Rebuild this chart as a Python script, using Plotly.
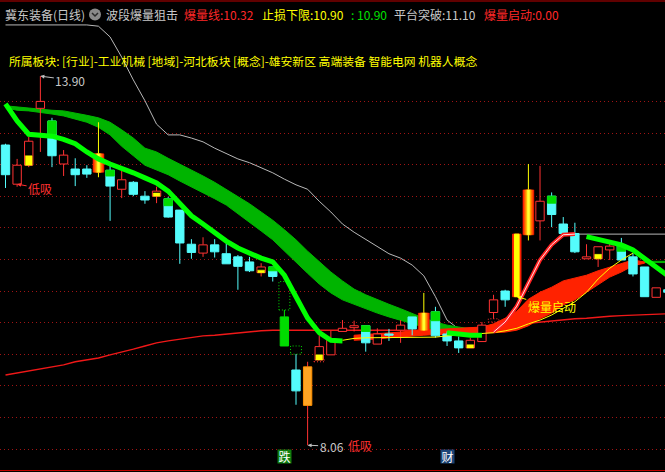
import plotly.graph_objects as go

# ---------------------------------------------------------------- daily bars
OPEN = [12.81, 12.19, 12.49, 13.39, 13.19, 12.51, 12.43, 12.43, 12.38, 12.41,
        12.11, 12.22, 12.00, 12.00, 11.96, 11.78, 11.24, 11.10, 11.23, 11.09,
        11.04, 10.96, 10.79, 10.88, 10.09, 9.25, 8.69, 9.41, 9.49, 9.86,
        9.92, 9.95, 9.66, 9.82, 9.88, 10.09, 9.88, 10.17, 9.82, 9.71,
        9.60, 9.70, 10.16, 10.50, 10.41, 11.39, 11.61, 12.00, 11.56, 11.41,
        11.01, 11.01, 11.15, 11.23, 11.04, 10.88, 10.40, 10.52]
HIGH = [12.83, 12.59, 12.94, 13.90, 13.24, 12.73, 12.60, 12.49, 13.17, 12.48,
        12.42, 12.24, 12.08, 12.15, 11.99, 11.78, 11.32, 11.35, 11.32, 11.29,
        11.07, 11.04, 10.94, 10.88, 10.20, 9.50, 9.38, 9.80, 9.87, 10.04,
        10.03, 9.95, 9.91, 9.90, 10.04, 10.09, 10.47, 10.25, 9.86, 9.78,
        9.76, 10.01, 10.44, 10.52, 11.40, 12.51, 12.48, 12.06, 11.67, 11.58,
        11.24, 11.20, 11.27, 11.34, 11.10, 10.88, 10.55, 10.55]
LOW = [12.13, 12.15, 12.46, 12.70, 12.46, 12.32, 12.16, 12.29, 12.30, 11.61,
       11.97, 12.00, 11.88, 11.89, 11.66, 10.93, 11.01, 11.04, 11.03, 10.93,
       10.52, 10.80, 10.73, 10.65, 9.63, 8.70, 8.06, 9.41, 9.49, 9.86,
       9.86, 9.54, 9.66, 9.71, 9.68, 9.80, 9.88, 9.76, 9.63, 9.52,
       9.60, 9.70, 10.06, 10.25, 10.41, 11.30, 11.30, 11.51, 11.41, 11.10,
       11.01, 10.88, 10.99, 10.99, 10.73, 10.41, 10.40, 10.40]
CLOSE = [12.34, 12.49, 12.87, 13.50, 12.64, 12.65, 12.34, 12.35, 12.67, 12.16,
         12.26, 12.03, 11.94, 12.08, 11.67, 11.26, 11.11, 11.23, 11.12, 10.93,
         10.89, 10.82, 10.88, 10.73, 9.63, 8.92, 9.30, 9.62, 9.72, 9.91,
         9.95, 9.68, 9.82, 9.80, 9.96, 9.90, 10.15, 9.79, 9.71, 9.60,
         9.72, 9.96, 10.36, 10.36, 11.40, 12.10, 11.92, 11.71, 11.41, 11.12,
         11.04, 11.20, 11.21, 10.99, 10.77, 10.41, 10.55, 10.48]

# special bars flagged by the strategy
BAR_TAG = {8: "burst", 24: "limit", 26: "bottom", 36: "burst", 44: "launch", 45: "burst"}
# volume marks painted inside bodies: bar index -> price level
VOL_UP_MARK = {2: 12.64, 13: 12.05, 22: 10.83, 27: 9.49, 40: 9.65, 51: 11.08}
VOL_DN_MARK = {4: 12.98, 9: 12.32, 14: 11.85, 23: 10.82, 31: 9.86, 37: 10.03,
               47: 11.89, 53: 11.13}

# ---------------------------------------------------------------- indicator lines
MA_LONG = [9.17, 9.20, 9.23, 9.27, 9.30, 9.33, 9.38, 9.41, 9.44, 9.49,
           9.53, 9.58, 9.63, 9.68, 9.71, 9.74, 9.77, 9.79, 9.80, 9.82,
           9.84, 9.85, 9.87, 9.88, 9.88, 9.88, 9.88, 9.88, 9.88, 9.87,
           9.87, 9.87, 9.87, 9.87, 9.88, 9.88, 9.88, 9.88, 9.89, 9.90,
           9.91, 9.91, 9.93, 9.95, 9.98, 9.99, 10.01, 10.03, 10.04, 10.06,
           10.07, 10.09, 10.10, 10.11, 10.12, 10.13, 10.14, 10.14]
TREND = [14.71, 14.71, 14.71, 14.71, 14.71, 14.71, 14.71, 14.71, 14.69, 14.52,
         14.20, 13.84, 13.51, 13.14, 12.97, 12.97, 12.92, 12.86, 12.76, 12.67,
         12.59, 12.53, 12.45, 12.37, 12.27, 12.18, 12.11, 11.92, 11.75, 11.56,
         11.43, 11.32, 11.20, 11.09, 11.02, 10.91, 10.74, 10.41, 10.04, 9.90,
         9.90, 9.90, 9.91, 10.01, 10.26, 10.63, 10.99, 11.23, 11.39, 11.40,
         11.40, 11.40, 11.40, 11.40, 11.40, 11.40, 11.40, 11.40]
GREEN_HI = [13.43, 13.41, 13.40, 13.38, 13.36, 13.35, 13.32, 13.28, 13.24, 13.17,
            13.05, 12.92, 12.76, 12.70, 12.60, 12.51, 12.41, 12.32, 12.22, 12.11,
            12.00, 11.88, 11.75, 11.62, 11.47, 11.31, 11.13, 10.96, 10.80, 10.66,
            10.53, 10.44, 10.36, 10.29, 10.22, 10.14, 10.07, 10.01, 9.96, 9.93,
            9.90, 9.87, None, None, None, None, None, None, None, None,
            None, None, None, None, None, 10.97, 10.97, 10.97]
GREEN_LO = [13.40, 13.36, 13.35, 13.33, 13.30, 13.27, 13.22, 13.17, 13.09, 12.97,
            12.79, 12.64, 12.49, 12.41, 12.34, 12.24, 12.15, 12.05, 11.96, 11.86,
            11.73, 11.59, 11.45, 11.31, 11.13, 10.96, 10.78, 10.61, 10.47, 10.36,
            10.28, 10.22, 10.15, 10.09, 10.04, 9.98, 9.93, 9.88, 9.85, 9.82,
            9.80, 9.79, None, None, None, None, None, None, None, None,
            None, None, None, None, None, 10.95, 10.95, 10.95]
RED_HI = [None, None, None, None, None, None, None, None, None, None,
          None, None, None, None, None, None, None, None, None, None,
          None, None, None, None, None, None, None, None, None, None,
          9.80, 9.81, 9.82, 9.84, 9.85, 9.87, 9.88, 9.89, 9.90, 9.90,
          9.91, 9.93, 9.98, 10.07, 10.18, 10.37, 10.48, 10.56, 10.66, 10.71,
          10.75, 10.82, 10.88, 10.94, 10.99, 10.96, None, None]
RED_LO = [None, None, None, None, None, None, None, None, None, None,
          None, None, None, None, None, None, None, None, None, None,
          None, None, None, None, None, None, None, None, None, None,
          9.72, 9.73, 9.74, 9.76, 9.77, 9.79, 9.80, 9.81, 9.82, 9.82,
          9.83, 9.84, 9.84, 9.85, 9.88, 9.95, 10.06, 10.15, 10.28, 10.36,
          10.48, 10.60, 10.72, 10.80, 10.90, 10.94, None, None]
STOP_LINE = [None, None, None, None, None, None, None, None, None, None,
             None, None, None, None, None, None, None, None, None, None,
             None, None, None, None, None, None, None, None, None, 9.72,
             9.75, 9.76, 9.76, 9.77, 9.77, 9.77, 9.77, 9.77, 9.79, 9.80,
             9.81, 9.83, 9.84, 9.87, 9.91, 9.98, 10.04, 10.12, 10.22, 10.33,
             10.48, 10.69, 10.86, 10.99, 11.10, None, None, None]
FAST_LINE = [13.46, 13.19, 12.98, 12.97, 12.95, 12.90, 12.83, 12.70, 12.59, 12.51,
             12.45, 12.37, 12.29, 12.21, 12.08, 11.89, 11.69, 11.56, 11.42, 11.29,
             11.18, 11.09, 11.02, 10.96, 10.75, 10.41, 10.07, 9.84, 9.72, 9.71,
             None, None, None, None, None, None, None, None, 9.84, 9.82,
             9.80, 9.80, None, None, None, None, None, None, None, None,
             11.36, 11.32, 11.29, 11.23, 11.15, 11.01, 10.86, 10.74]
BURST_LINE = [None, None, None, None, None, None, None, None, None, None,
              None, None, None, None, None, None, None, None, None, None,
              None, None, None, None, None, None, None, None, None, None,
              None, None, None, None, None, None, None, None, None, None,
              None, None, 9.85, 10.01, 10.26, 10.63, 10.99, 11.23, 11.39, 11.40,
              None, None, None, None, None, None, None, None]

GRID_LEVELS = [8.0, 8.5, 9.0, 9.5, 10.0, 10.5, 11.0, 11.5, 12.0, 12.5, 13.0, 13.5]

STOCK = "冀东装备(日线)"
FORMULA = "波段爆量狙击"
BURST_VAL = 10.32
STOP_VAL = 10.90
STOP_VAL2 = 10.90
PLATFORM_VAL = 11.10
LAUNCH_VAL = 0.00
SECTORS = "所属板块: [行业]-工业机械 [地域]-河北板块 [概念]-雄安新区 高端装备 智能电网 机器人概念"
BUY_SIGNAL_BARS = [1, 26]
EVENT_MARKS = [(24, "跌", "#0e7d0e"), (38, "财", "#1b4577")]

# ---------------------------------------------------------------- drawing
W, H = 665, 472
FONT = "Noto Sans CJK SC"
C_UP = "#ff3232"
C_DN = "#54fcfc"
N = len(OPEN)
IDX = list(range(N))

fig = go.Figure()


def px(v):
    return v / W


def py(v):
    return 1 - v / H


def add_line(vals, color, width):
    fig.add_trace(go.Scatter(x=IDX, y=vals, mode="lines", connectgaps=False,
                             line=dict(color=color, width=width),
                             hoverinfo="skip", showlegend=False))


def add_band(hi, lo, color):
    xs, ys, seg = [], [], []
    for i in IDX + [None]:
        if i is not None and hi[i] is not None:
            seg.append(i)
            continue
        if seg:
            xs += seg + seg[::-1] + [seg[0], None]
            ys += [hi[j] for j in seg] + [lo[j] for j in seg[::-1]] + [hi[seg[0]], None]
            seg = []
    fig.add_trace(go.Scatter(x=xs, y=ys, mode="lines", fill="toself", fillcolor=color,
                             line=dict(color=color, width=1),
                             hoverinfo="skip", showlegend=False))


def add_boxes(items, hw, fill, line, lw=1, dash=None):
    if not items:
        return
    xs, ys = [], []
    for i, a, b in items:
        xs += [i - hw, i + hw, i + hw, i - hw, i - hw, None]
        ys += [a, a, b, b, a, None]
    fig.add_trace(go.Scatter(x=xs, y=ys, mode="lines",
                             fill="toself" if fill else "none", fillcolor=fill,
                             line=dict(color=line, width=lw, dash=dash),
                             hoverinfo="skip", showlegend=False))


def add_wicks(idx, color):
    xs, ys = [], []
    for i in idx:
        lo, hi = min(OPEN[i], CLOSE[i]), max(OPEN[i], CLOSE[i])
        if LOW[i] < lo:
            xs += [i, i, None]
            ys += [LOW[i], lo, None]
        if HIGH[i] > hi:
            xs += [i, i, None]
            ys += [hi, HIGH[i], None]
    if xs:
        fig.add_trace(go.Scatter(x=xs, y=ys, mode="lines", line=dict(color=color, width=1),
                                 hoverinfo="skip", showlegend=False))


def body(i):
    return (i, min(OPEN[i], CLOSE[i]), max(OPEN[i], CLOSE[i]))


# lower layers: long average, trend ceiling, ribbons
add_line(MA_LONG, "#f01818", 1.4)
add_line(TREND, "#b8b8b8", 1)
add_band(GREEN_HI, GREEN_LO, "#00b400")
add_band(RED_HI, RED_LO, "#ff2200")

# price gaps
gap_up, gap_dn = [], []
for i in range(1, N):
    if LOW[i] > HIGH[i - 1]:
        gap_up.append((i, HIGH[i - 1], LOW[i]))
    if HIGH[i] < LOW[i - 1]:
        gap_dn.append((i, HIGH[i], LOW[i - 1]))
add_boxes(gap_up, 0.45, None, C_UP, 1, "1px,2px")
add_boxes(gap_dn, 0.47, None, "#00e000", 1, "1px,2px")

# candles
tag = [BAR_TAG.get(i, "") for i in IDX]
up_bars = [i for i in IDX if tag[i] == "" and CLOSE[i] >= OPEN[i]]
dn_bars = [i for i in IDX if tag[i] == "" and CLOSE[i] < OPEN[i]]
burst_bars = [i for i in IDX if tag[i] == "burst"]
launch_bars = [i for i in IDX if tag[i] == "launch"]
limit_bars = [i for i in IDX if tag[i] == "limit"]
bottom_bars = [i for i in IDX if tag[i] == "bottom"]

add_wicks(up_bars + bottom_bars, C_UP)
add_wicks(dn_bars, C_DN)
add_wicks(burst_bars, "#ffff00")
add_wicks(limit_bars, "#00e000")

add_boxes([body(i) for i in up_bars], 0.36, "#000000", C_UP)
add_boxes([body(i) for i in dn_bars], 0.36, C_DN, C_DN)
add_boxes([body(i) for i in limit_bars], 0.36, "#00dc00", "#00dc00")
add_boxes([body(i) for i in bottom_bars], 0.36, "#ffa524", "#ff9000")
for hw, col in [(0.47, "#ff2000"), (0.34, "#ff6400"), (0.22, "#ffaa00"), (0.10, "#ffff30")]:
    add_boxes([body(i) for i in burst_bars], hw, col, col, 0.5)
add_boxes([body(i) for i in launch_bars], 0.36, "#ff2000", "#ff2000")
add_boxes([body(i) for i in launch_bars], 0.20, "#ffff00", "#ffff00")

add_boxes([(i, OPEN[i], v) for i, v in VOL_UP_MARK.items()], 0.29, "#ffff00", "#ffff00", 0.5)
add_boxes([(i, v, OPEN[i]) for i, v in VOL_DN_MARK.items()], 0.36, "#00dc00", "#00dc00")

# upper layers
add_line(STOP_LINE, "#ffff00", 1)
add_line(FAST_LINE, "#00ff00", 5)
add_line(BURST_LINE, "#ff2020", 4)
add_line(BURST_LINE, "#ffe6e6", 1)

# ---------------------------------------------------------------- text
ann = []


def head(x, text, color):
    ann.append(dict(x=px(x), y=py(14), xref="paper", yref="paper", xanchor="left",
                    yanchor="middle", text=text, showarrow=False,
                    font=dict(family=FONT, size=12, color=color)))


head(3, STOCK, "#c8c8c8")
head(104, FORMULA, "#c8c8c8")
head(182, f"爆量线:{BURST_VAL:.2f}", "#ff2828")
head(260, f"止损下限:{STOP_VAL:.2f}", "#ffff00")
head(349, f": {STOP_VAL2:.2f}", "#00e000")
head(392, f"平台突破:{PLATFORM_VAL:.2f}", "#c8c8c8")
head(482, f"爆量启动:{LAUNCH_VAL:.2f}", "#ff2828")

ann.append(dict(x=px(7), y=py(60), xref="paper", yref="paper", xanchor="left",
                yanchor="middle", text=SECTORS, showarrow=False,
                font=dict(family=FONT, size=11.8, color="#ffff00")))

hi_i = max(IDX, key=lambda i: HIGH[i])
lo_i = min(IDX, key=lambda i: LOW[i])

# extreme price tags
ann.append(dict(x=hi_i, y=HIGH[hi_i], xref="x", yref="y", text=f"{HIGH[hi_i]:.2f}",
                showarrow=True, ax=30, ay=4, arrowhead=2, arrowsize=0.8, arrowwidth=1,
                arrowcolor="#c0c0c0", standoff=0,
                font=dict(family=FONT, size=12, color="#c8c8c8")))
ann.append(dict(x=lo_i, y=LOW[lo_i], xref="x", yref="y", text=f"{LOW[lo_i]:.2f}",
                showarrow=True, ax=24, ay=1, arrowhead=2, arrowsize=0.8, arrowwidth=1,
                arrowcolor="#c0c0c0", standoff=0,
                font=dict(family=FONT, size=12, color="#c8c8c8")))

# buy-signal tags
for i in BUY_SIGNAL_BARS:
    if i == lo_i:
        # sits just right of the low-price tag
        ann.append(dict(x=i, y=LOW[i], xref="x", yref="y", text="低吸", showarrow=False,
                        xanchor="left", xshift=38,
                        font=dict(family=FONT, size=12, color="#ff3030")))
    else:
        ann.append(dict(x=i, y=OPEN[i], xref="x", yref="y", text="低吸", showarrow=True,
                        ax=23, ay=4, arrowhead=2, arrowsize=0.8, arrowwidth=1,
                        arrowcolor="#ff3030", standoff=0,
                        font=dict(family=FONT, size=12, color="#ff3030")))

# launch tag
li = launch_bars[0]
ann.append(dict(x=li, y=LOW[li], xref="x", yref="y", text="爆量启动", showarrow=True,
                ax=35, ay=10, arrowhead=2, arrowsize=0.8, arrowwidth=1,
                arrowcolor="#ffff00", standoff=0,
                font=dict(family=FONT, size=12, color="#ffff00")))

# event boxes along the bottom
for i, ch, bg in EVENT_MARKS:
    ann.append(dict(x=i, y=py(463.5), xref="x", yref="paper", text=ch, showarrow=False,
                    bgcolor=bg, width=13, height=13, borderpad=0,
                    font=dict(family=FONT, size=12, color="#ffffff")))

shapes = [
    dict(type="line", xref="paper", yref="paper", x0=0, x1=1, y0=py(1), y1=py(1),
         line=dict(color="#c00000", width=1)),
    dict(type="line", xref="paper", yref="paper", x0=0, x1=1, y0=py(470.5), y1=py(470.5),
         line=dict(color="#c00000", width=1)),
    dict(type="circle", xref="paper", yref="paper", x0=px(89), x1=px(101),
         y0=py(20.5), y1=py(8.5), fillcolor="#8a8a8a", line=dict(width=0)),
    dict(type="path", xref="paper", yref="paper",
         path=f"M {px(92)} {py(13)} L {px(95)} {py(16)} L {px(98)} {py(13)}",
         line=dict(color="#2a2a2a", width=1.5)),
]

fig.update_layout(
    width=W, height=H, margin=dict(l=0, r=0, t=0, b=0),
    paper_bgcolor="#000000", plot_bgcolor="#000000", showlegend=False,
    xaxis=dict(range=[-5.5 / 11.62, (W - 5.5) / 11.62], showgrid=False, zeroline=False,
               showticklabels=False, ticks="", showline=False, fixedrange=True),
    yaxis=dict(range=[8 - (H - 449) / 63.2, 8 + 449 / 63.2], tickvals=GRID_LEVELS,
               showgrid=True, gridcolor="#a01414", gridwidth=1, griddash="1px,3px",
               zeroline=False, showticklabels=False, ticks="", showline=False,
               fixedrange=True),
    annotations=ann, shapes=shapes,
)

fig.write_html("out.html", config={"displayModeBar": False})
